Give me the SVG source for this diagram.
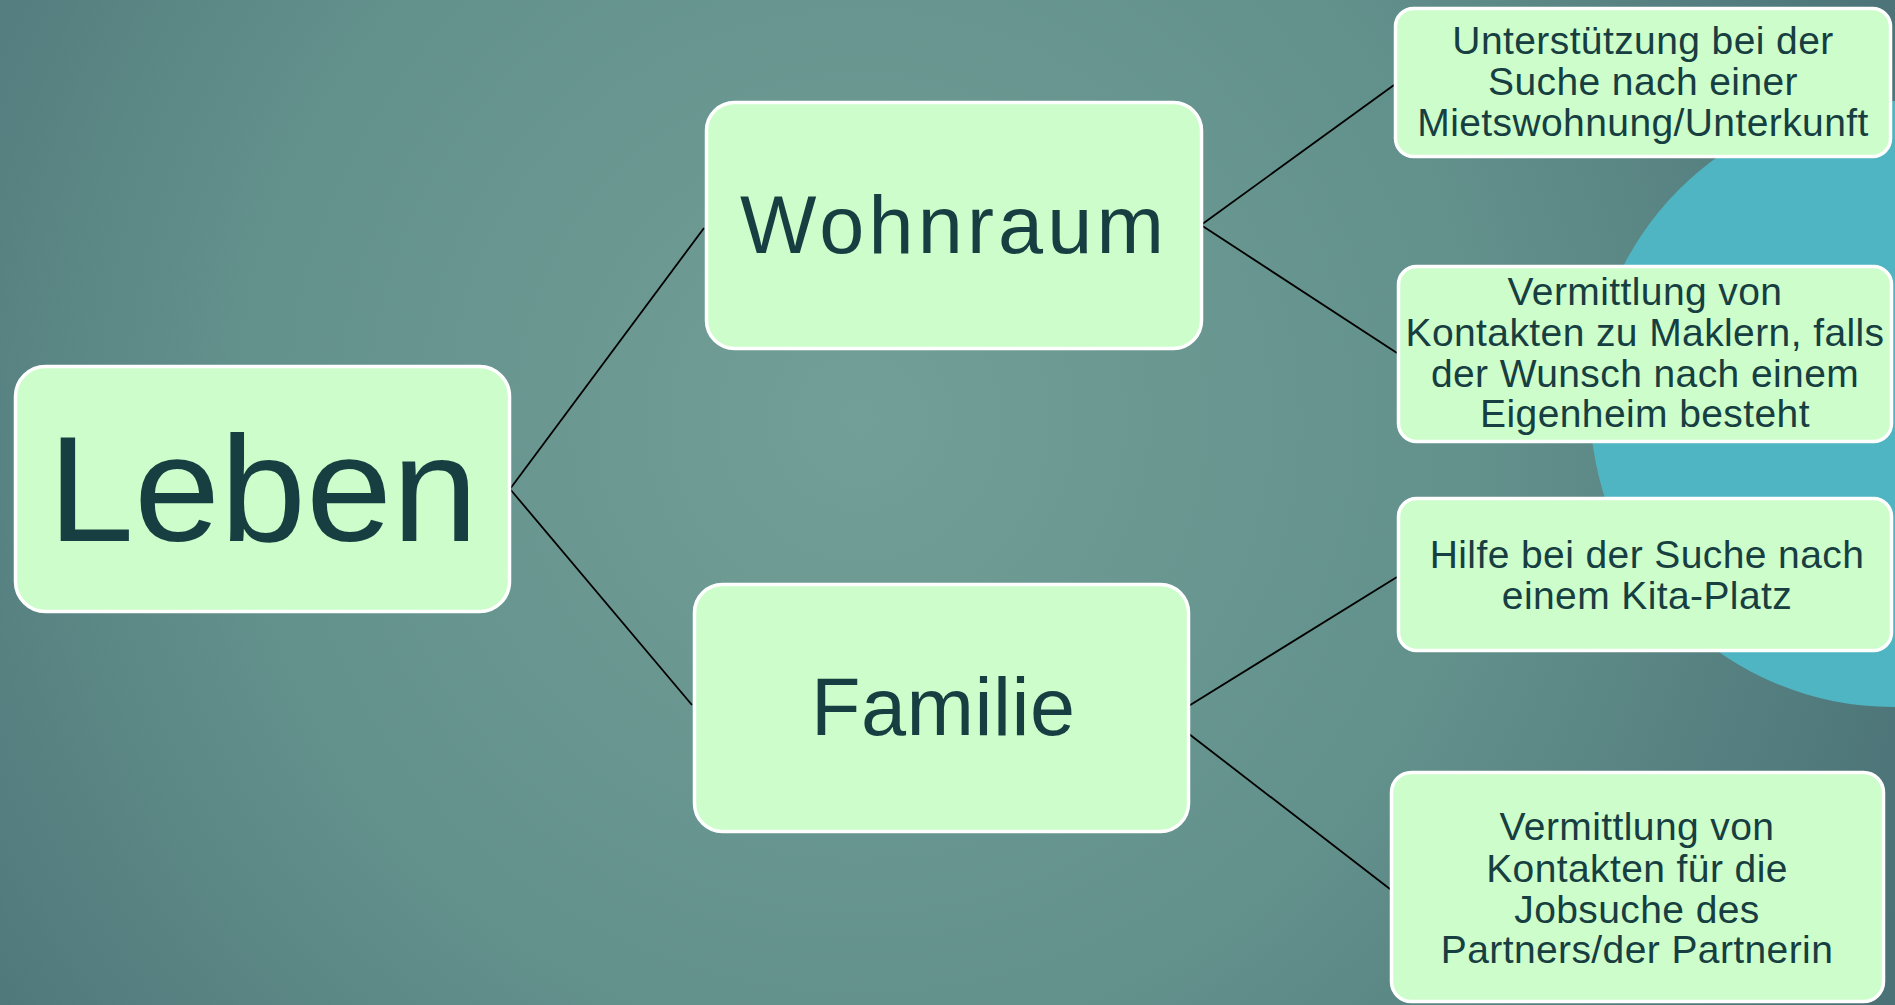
<svg xmlns="http://www.w3.org/2000/svg" width="1895" height="1005" viewBox="0 0 1895 1005">
  <defs>
    <radialGradient id="bg" cx="860" cy="420" r="1150" gradientUnits="userSpaceOnUse">
      <stop offset="0" stop-color="#729f97"/>
      <stop offset="0.55" stop-color="#62908b"/>
      <stop offset="1" stop-color="#4b7277"/>
    </radialGradient>
    <style>
      .box { fill: #ccfdca; stroke: #ffffff; stroke-width: 3.5; }
      .big { font-family: "Liberation Sans", Arial, sans-serif; fill: #173e41; text-anchor: middle; }
      .small { font-family: "Liberation Sans", Arial, sans-serif; fill: #173e41; text-anchor: middle; font-size: 39px; letter-spacing: 0.4px; }
      .conn { stroke: #000000; stroke-width: 1.8; fill: none; }
    </style>
  </defs>
  <rect x="0" y="0" width="1895" height="1005" fill="url(#bg)"/>
  <circle cx="1893" cy="404" r="303" fill="#4fb5c2"/>

  <g id="connectors">
    <line class="conn" x1="510" y1="489" x2="704" y2="228"/>
    <line class="conn" x1="510" y1="489" x2="692" y2="705"/>
    <line class="conn" x1="1201" y1="225" x2="1394" y2="85"/>
    <line class="conn" x1="1201" y1="225" x2="1397" y2="353"/>
    <line class="conn" x1="1187" y1="707" x2="1397" y2="577"/>
    <line class="conn" x1="1189" y1="734" x2="1399" y2="896"/>
  </g>

  <g id="leben">
    <rect class="box" x="15.5" y="366.5" width="494" height="245" rx="30"/>
    <text class="big" x="263" y="541" font-size="150" textLength="430" lengthAdjust="spacingAndGlyphs">Leben</text>
  </g>

  <g id="wohnraum">
    <rect class="box" x="706.5" y="102.5" width="495" height="246" rx="28"/>
    <text class="big" x="952" y="253" font-size="81" textLength="424" lengthAdjust="spacing">Wohnraum</text>
  </g>

  <g id="familie">
    <rect class="box" x="694.5" y="584.5" width="494" height="247" rx="28"/>
    <text class="big" x="943" y="735" font-size="81" textLength="264" lengthAdjust="spacing">Familie</text>
  </g>

  <g id="wohnung">
    <rect class="box" x="1395.5" y="8.5" width="495" height="148" rx="18"/>
    <text class="small" x="1643" y="54">Unterstützung bei der</text>
    <text class="small" x="1643" y="95">Suche nach einer</text>
    <text class="small" x="1643" y="136">Mietswohnung/Unterkunft</text>
  </g>

  <g id="makler">
    <rect class="box" x="1398.5" y="266.5" width="493" height="175" rx="18"/>
    <text class="small" x="1645" y="305">Vermittlung von</text>
    <text class="small" x="1645" y="346">Kontakten zu Maklern, falls</text>
    <text class="small" x="1645" y="387">der Wunsch nach einem</text>
    <text class="small" x="1645" y="427">Eigenheim besteht</text>
  </g>

  <g id="kita">
    <rect class="box" x="1398.5" y="498.5" width="493" height="152" rx="18"/>
    <text class="small" x="1647" y="568">Hilfe bei der Suche nach</text>
    <text class="small" x="1647" y="609">einem Kita-Platz</text>
  </g>

  <g id="jobsuche">
    <rect class="box" x="1391.5" y="772.5" width="492" height="229" rx="20"/>
    <text class="small" x="1637" y="840">Vermittlung von</text>
    <text class="small" x="1637" y="882">Kontakten für die</text>
    <text class="small" x="1637" y="923">Jobsuche des</text>
    <text class="small" x="1637" y="963">Partners/der Partnerin</text>
  </g>
</svg>
